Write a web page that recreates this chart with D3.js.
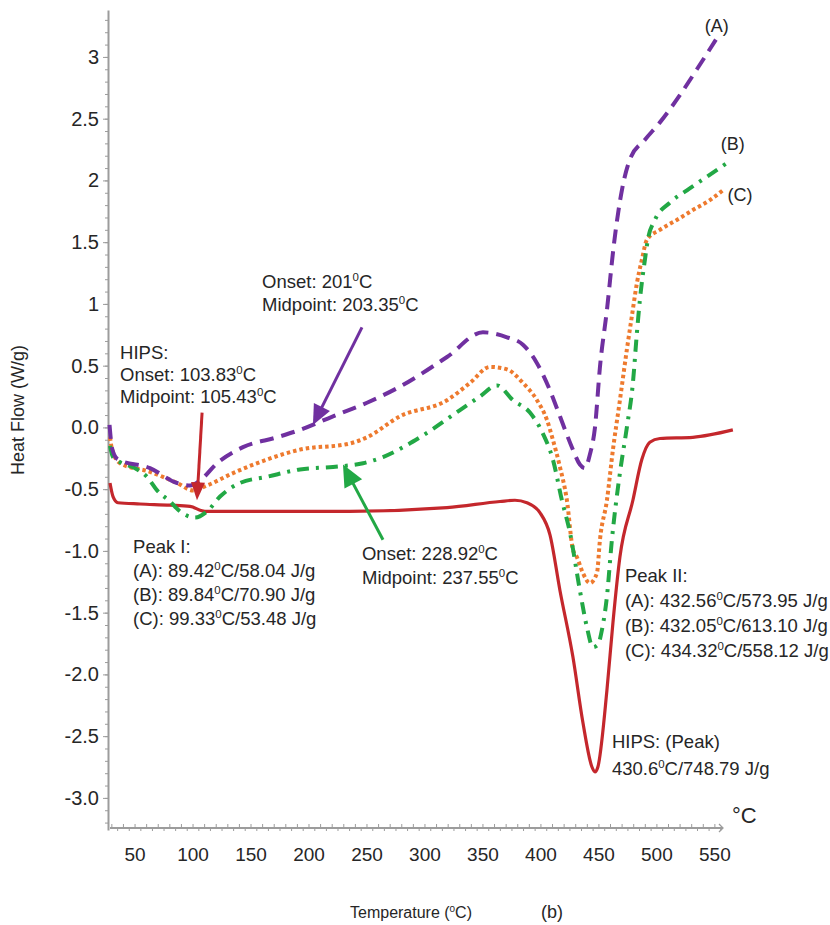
<!DOCTYPE html>
<html><head><meta charset="utf-8">
<script src="https://cdn.jsdelivr.net/npm/d3@7"></script>
<style>
body{margin:0;background:#fff}
svg{display:block}
text{font-family:"Liberation Sans",Arial,sans-serif;fill:#262626}
</style>
</head><body>
<svg id="c" width="830" height="925"></svg>
<script>
// ---------- data (temperature °C, heat flow W/g) ----------
const tempA = [28, 30.2, 35.3, 62.9, 86.2, 97.4, 106, 120.7, 143.1, 172.4, 192.2, 220.7, 250, 278.4, 319, 350, 370.7, 384.5, 396.6, 407.8, 416.4, 426.7, 433.6, 437.9, 442.2, 446.6, 450.9, 456.9, 462.9, 469.8, 476.7, 489.7, 502.6, 519.8, 534.5, 550.9];
const flowA = [0.02, -0.17, -0.26, -0.33, -0.45, -0.47, -0.43, -0.29, -0.16, -0.08, -0.02, 0.09, 0.2, 0.33, 0.57, 0.77, 0.73, 0.67, 0.52, 0.3, 0.09, -0.16, -0.3, -0.33, -0.22, 0.0, 0.49, 0.95, 1.48, 1.92, 2.17, 2.33, 2.47, 2.69, 2.9, 3.14];

const tempB = [28.4, 31, 51.7, 60.3, 69, 80.2, 88.8, 101.7, 112.1, 123.3, 140.5, 163.8, 192.2, 220.7, 246.6, 263.8, 295.7, 330.2, 347.4, 362.1, 375.9, 390.5, 401.7, 410.3, 418.1, 425, 433.6, 439.7, 444.8, 449.1, 452.6, 456.9, 461.2, 468.1, 474.1, 479.3, 482.8, 485.3, 489.7, 492.2, 498.3, 511.2, 525.9, 543.1, 560.3];
const flowB = [-0.15, -0.24, -0.34, -0.4, -0.51, -0.6, -0.68, -0.73, -0.68, -0.56, -0.45, -0.4, -0.34, -0.32, -0.29, -0.24, -0.08, 0.14, 0.25, 0.34, 0.22, 0.12, -0.05, -0.26, -0.59, -0.85, -1.32, -1.62, -1.78, -1.76, -1.64, -1.37, -0.91, -0.37, 0.0, 0.36, 0.77, 1.03, 1.36, 1.52, 1.68, 1.82, 1.92, 2.03, 2.14];

const tempC = [28.4, 30.2, 37.1, 62.9, 86.2, 100, 112.1, 134.5, 163.8, 192.2, 235.3, 250, 278.4, 319, 338.8, 356, 370.7, 384.5, 396.6, 405.2, 410.3, 416.4, 422.4, 427.6, 431, 436.2, 442.2, 448.3, 450.9, 456.9, 462.1, 468.1, 474.1, 478.4, 482.8, 487.1, 491.4, 502.6, 517.2, 531, 545.7, 556.9];
const flowC = [-0.08, -0.18, -0.29, -0.36, -0.45, -0.51, -0.47, -0.37, -0.26, -0.18, -0.13, -0.08, 0.09, 0.22, 0.36, 0.49, 0.47, 0.36, 0.22, 0.06, -0.1, -0.32, -0.59, -0.99, -1.05, -1.18, -1.26, -1.18, -0.91, -0.59, -0.18, 0.22, 0.63, 0.9, 1.17, 1.36, 1.52, 1.6, 1.68, 1.76, 1.84, 1.92];

const tempH = [28.4, 31, 35.3, 54.3, 80.2, 97.4, 110.3, 149.1, 235.3, 319, 364.7, 377.6, 387.9, 399.1, 407.8, 416.4, 427.6, 436.2, 444, 446.6, 449.1, 456.9, 462.1, 468.1, 479.3, 487, 493.9, 502.6, 531, 565.5];
const flowH = [-0.45, -0.56, -0.61, -0.62, -0.63, -0.64, -0.68, -0.68, -0.68, -0.65, -0.6, -0.59, -0.61, -0.69, -0.87, -1.32, -1.86, -2.39, -2.75, -2.79, -2.75, -2.13, -1.58, -1.05, -0.59, -0.26, -0.12, -0.09, -0.08, -0.02];

const xTickValues = [50, 100, 150, 200, 250, 300, 350, 400, 450, 500, 550];
const xTickLabels = ["50", "100", "150", "200", "250", "300", "350", "400", "450", "500", "550"];
const yTickValues = [3, 2.5, 2, 1.5, 1, 0.5, 0, -0.5, -1, -1.5, -2, -2.5, -3];
const yTickLabels = ["3", "2.5", "2", "1.5", "1", "0.5", "0.0", "-0.5", "-1.0", "-1.5", "-2.0", "-2.5", "-3.0"];

const seriesNames = ["(A)", "(B)", "(C)", "HIPS"];

// ---------- layout / style ----------
const svg = d3.select("#c");
const x = d3.scaleLinear().domain([28.4, 557]).range([110, 723]);
const y = d3.scaleLinear().domain([-3.26, 3.38]).range([830, 10]);
const axisColor = "#9c9c9c";
const colA = "#7030A0", colB = "#22A845", colC = "#EE7A2E", colH = "#C4272C";

// y axis
const yAxisG = svg.append("g").attr("transform", "translate(108,0)");
yAxisG.call(d3.axisLeft(y).tickValues(d3.range(-32, 34).map(d => d / 10)).tickSize(3).tickSizeOuter(0).tickFormat(""));
yAxisG.call(g => g.select(".domain").attr("stroke", axisColor).attr("stroke-width", 2));
yAxisG.selectAll(".tick line").attr("stroke", axisColor);
const yMajor = svg.append("g").attr("transform", "translate(108,0)");
yMajor.call(d3.axisLeft(y).tickValues(yTickValues).tickSize(5).tickPadding(4).tickFormat((d, i) => yTickLabels[i]));
yMajor.select(".domain").remove();
yMajor.selectAll(".tick line").attr("stroke", axisColor);
yMajor.selectAll(".tick text").attr("font-size", 20).attr("font-family", "Liberation Sans, Arial, sans-serif").attr("fill", "#262626");

// x axis
const xAxisY = 828;
const xG = svg.append("g");
xG.append("line").attr("x1", x(28.4)).attr("x2", x(557)).attr("y1", xAxisY).attr("y2", xAxisY)
  .attr("stroke", axisColor).attr("stroke-width", 2);
const minorX = d3.range(30, 556, 5);
xG.selectAll("line.mt").data(minorX).join("line").attr("class", "mt")
  .attr("x1", d => x(d)).attr("x2", d => x(d))
  .attr("y1", d => d % 10 === 0 ? xAxisY - 4 : xAxisY)
  .attr("y2", d => d % 10 === 0 ? xAxisY : xAxisY + 3)
  .attr("stroke", axisColor).attr("stroke-width", 1);
xG.append("path")
  .attr("d", `M${x(557) - 4},${xAxisY - 4}L${x(557)},${xAxisY}L${x(557) - 4},${xAxisY + 4}`)
  .attr("fill", "none").attr("stroke", axisColor).attr("stroke-width", 1.3);
xG.selectAll("text.xl").data(xTickValues).join("text").attr("class", "xl")
  .attr("x", d => x(d)).attr("y", xAxisY + 33).attr("text-anchor", "middle")
  .attr("font-size", 19).text((d, i) => xTickLabels[i]);

// ---------- lines ----------
const line = d3.line().x(d => x(d[0])).y(d => y(d[1])).curve(d3.curveMonotoneX);
const zip = (t, v) => t.map((d, i) => [d, v[i]]);
const series = [
  { name: seriesNames[3], data: zip(tempH, flowH), color: colH, width: 3.2, dash: null },
  { name: seriesNames[2], data: zip(tempC, flowC), color: colC, width: 4, dash: "3.5,3" },
  { name: seriesNames[1], data: zip(tempB, flowB), color: colB, width: 4, dash: "12,7,3,7" },
  { name: seriesNames[0], data: zip(tempA, flowA), color: colA, width: 4, dash: "14,8" }
];
svg.append("g").selectAll("path").data(series).join("path")
  .attr("d", d => line(d.data)).attr("fill", "none")
  .attr("stroke", d => d.color).attr("stroke-width", d => d.width)
  .attr("stroke-dasharray", d => d.dash).attr("stroke-linejoin", "round");

// ---------- arrows (data coords) ----------
const arrows = [
  { from: [245.7, 0.81], to: [203.4, 0.02], color: colA, len: 20, half: 9 },
  { from: [107.8, 0.12], to: [103.4, -0.59], color: colH, len: 18, half: 7 },
  { from: [263.8, -0.91], to: [229.3, -0.30], color: colB, len: 22, half: 10 }
];
arrows.forEach(a => {
  const x0 = x(a.from[0]), y0 = y(a.from[1]), x1 = x(a.to[0]), y1 = y(a.to[1]);
  const dx = x1 - x0, dy = y1 - y0, L = Math.hypot(dx, dy), ux = dx / L, uy = dy / L;
  const bx = x1 - ux * a.len, by = y1 - uy * a.len;
  svg.append("line").attr("x1", x0).attr("y1", y0).attr("x2", bx + ux * 2).attr("y2", by + uy * 2)
    .attr("stroke", a.color).attr("stroke-width", 3);
  svg.append("path")
    .attr("d", `M${x1},${y1}L${bx - uy * a.half},${by + ux * a.half}L${bx + uy * a.half},${by - ux * a.half}Z`)
    .attr("fill", a.color);
});

// ---------- annotations ----------
function richText(g, px, py, str, size) {
  const t = g.append("text").attr("x", px).attr("y", py).attr("font-size", size);
  const parts = str.split("⁰");
  parts.forEach((p, i) => {
    if (i > 0) {
      t.append("tspan").attr("font-size", size * 0.62).attr("dy", -size * 0.38).text("0");
      t.append("tspan").attr("dy", size * 0.38).text(p);
    } else {
      t.append("tspan").text(p);
    }
  });
  return t;
}
const notes = [
  { at: [159.5, 1.13], gap: 23, lines: ["Onset: 201⁰C", "Midpoint: 203.35⁰C"] },
  { at: [37.1, 0.555], gap: 22, lines: ["HIPS:", "Onset: 103.83⁰C", "Midpoint: 105.43⁰C"] },
  { at: [48.3, -1.02], gap: 24, lines: ["Peak I:", "(A): 89.42⁰C/58.04 J/g", "(B): 89.84⁰C/70.90 J/g", "(C): 99.33⁰C/53.48 J/g"] },
  { at: [245.7, -1.07], gap: 24, lines: ["Onset: 228.92⁰C", "Midpoint: 237.55⁰C"] },
  { at: [472.4, -1.25], gap: 25, lines: ["Peak II:", "(A): 432.56⁰C/573.95 J/g", "(B): 432.05⁰C/613.10 J/g", "(C): 434.32⁰C/558.12 J/g"] },
  { at: [461.2, -2.595], gap: 27, lines: ["HIPS: (Peak)", "430.6⁰C/748.79 J/g"] }
];
const ng = svg.append("g");
notes.forEach(n => {
  n.lines.forEach((s, i) => richText(ng, x(n.at[0]), y(n.at[1]) + i * n.gap, s, 18.5));
});

// series labels
const seriesLabelPos = [[551.7, 3.2], [565.5, 2.25], [571.6, 1.83]];
seriesLabelPos.forEach((p, i) => {
  svg.append("text").attr("x", x(p[0])).attr("y", y(p[1])).attr("text-anchor", "middle")
    .attr("font-size", 18).text(seriesNames[i]);
});

// unit near x axis
svg.append("text").attr("x", x(564.7)).attr("y", y(-3.2)).attr("font-size", 22).text("°C");

// axis titles
svg.append("text").attr("transform", `translate(24,${410}) rotate(-90)`).attr("text-anchor", "middle")
  .attr("font-size", 18).text("Heat Flow (W/g)");
richText(svg, 350, 918, "Temperature (⁰C)", 16);
svg.append("text").attr("x", 541).attr("y", 918).attr("font-size", 18).text("(b)");
</script>
</body></html>
